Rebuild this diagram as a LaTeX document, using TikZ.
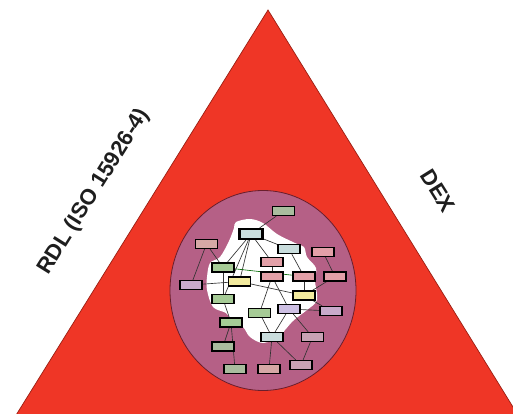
\documentclass[tikz,border=0pt]{standalone}
\usepackage{fontspec}
\setmainfont{Liberation Sans}
\pgfdeclarelayer{back}
\pgfdeclarelayer{mid}
\pgfsetlayers{back,mid,main}
\definecolor{trired}{HTML}{EF3626}
\definecolor{triedge}{HTML}{9A1E12}
\definecolor{mauve}{HTML}{B56086}
\definecolor{mauveedge}{HTML}{6A1E2C}
\definecolor{cgg}{HTML}{A9BC9E}
\definecolor{cpk}{HTML}{E3A0A8}
\definecolor{cpkg}{HTML}{D6A8A6}
\definecolor{clb}{HTML}{C9DDDD}
\definecolor{cgr}{HTML}{A6CB96}
\definecolor{cye}{HTML}{F2EA9E}
\definecolor{clv}{HTML}{C9AACB}
\definecolor{clvb}{HTML}{CDBFE3}
\definecolor{cmv}{HTML}{C8A2B4}
\definecolor{txt}{HTML}{1E1E1E}
\begin{document}
\begin{tikzpicture}[x=1pt,y=-1pt,
  box/.style={draw=black, line width=1.2pt, minimum width=22pt, minimum height=9pt, inner sep=0pt},
  keybox/.style={box, line width=2.2pt, minimum width=23pt, minimum height=10pt},
  link/.style={draw=black!80, line width=0.65pt},
  glink/.style={draw=green!40!black, line width=0.65pt},
  label/.style={text=txt, font=\bfseries\fontsize{22}{22}\selectfont, inner sep=0pt}]
\useasboundingbox (0,0) rectangle (513,414);
\clip (0,0) rectangle (513,414);
\begin{pgfonlayer}{back}
  \fill[white] (0,0) rectangle (513,414);
  \draw[fill=trired, draw=triedge, line width=0.7pt] (268,10) -- (13,420) -- (521,420) -- cycle;
  \draw[fill=mauve, draw=mauveedge, line width=0.8pt] (263,290.5) ellipse [x radius=93, y radius=100];
  \fill[white] plot[smooth cycle, tension=0.55] coordinates {
    (236,222) (250,219) (263,223) (277,234) (295,243) (304,247) (307,257) (316,268)
    (315,281) (317,300) (307,310) (294,320) (285,330) (279,337) (263,343) (250,337)
    (243,327) (232,320) (226,313) (213,307) (207,290) (207,277) (210,263) (220,257)
    (229,241) (234,228)};
\end{pgfonlayer}
% boxes
\node[box, fill=cgg]  (b1)  at (283.5,211) {};
\node[keybox, fill=clb] (b2) at (251,234) {};
\node[box, fill=cpkg] (b3)  at (206.5,244) {};
\node[box, fill=clb]  (b4)  at (289,249) {};
\node[box, fill=cpk]  (b5)  at (323,252) {};
\node[box, fill=cgr]  (b6)  at (223,267.5) {};
\node[box, fill=cpk]  (b7)  at (272,262) {};
\node[box, fill=cpk]  (b8)  at (272,276.5) {};
\node[box, fill=cpk]  (b9)  at (304,276.5) {};
\node[box, fill=cpk]  (b10) at (335,276.5) {};
\node[box, fill=cye]  (b11) at (239.5,281.5) {};
\node[box, fill=clv]  (b12) at (191,285) {};
\node[box, fill=cye]  (b13) at (304,295.5) {};
\node[box, fill=cgr]  (b14) at (223,299) {};
\node[box, fill=cgr]  (b15) at (259.5,313) {};
\node[box, fill=clvb] (b16) at (289,309) {};
\node[box, fill=clv]  (b17) at (331,311) {};
\node[box, fill=cgr]  (b18) at (231,322.5) {};
\node[box, fill=clb]  (b19) at (272,337) {};
\node[box, fill=cmv]  (b20) at (312.5,337) {};
\node[box, fill=cgg]  (b21) at (223,346.5) {};
\node[box, fill=cgg]  (b22) at (235,369) {};
\node[box, fill=cpkg] (b23) at (269,369) {};
\node[box, fill=cmv]  (b24) at (301,365) {};
% links
\begin{pgfonlayer}{mid}
  \draw[link] (b1) -- (b2);
  \draw[link] (b2) -- (b6);
  \draw[link] (b2) -- (b11);
  \draw[link] (b2) -- (b7);
  \draw[link] (b2) -- (b4);
  \draw[link] (b2) -- (b14);
  \draw[link] (b3) -- (b12);
  \draw[link] (b3) -- (b6);
  \draw[link] (b4) -- (b9);
  \draw[link] (b5) -- (b10);
  \draw[link] (b7) -- (b8);
  \draw[glink] (b6) -- (b9);
  \draw[link] (b12) -- (b11);
  \draw[link] (b11) -- (b13);
  \draw[link] (b8) -- (b15);
  \draw[link] (b8) -- (b16);
  \draw[link] (b9) -- (b13);
  \draw[link] (b10) -- (b13);
  \draw[link] (b13) -- (b17);
  \draw[link] (b6) -- (b14);
  \draw[link] (b14) -- (b18);
  \draw[link] (b15) -- (b19);
  \draw[link] (b16) -- (b19);
  \draw[link] (b16) -- (b20);
  \draw[link] (b16) -- (b17);
  \draw[link] (b18) -- (b21);
  \draw[link] (b18) -- (b22);
  \draw[link] (b19) -- (b23);
  \draw[link] (b19) -- (b24);
  \draw[link] (b20) -- (b24);
\end{pgfonlayer}
% side labels
\node[label, rotate=58]  (rdl) at (94,192) {RDL (ISO 15926-4)};
\node[label, rotate=-58] (dex) at (438,191) {DEX};
\end{tikzpicture}
\end{document}
